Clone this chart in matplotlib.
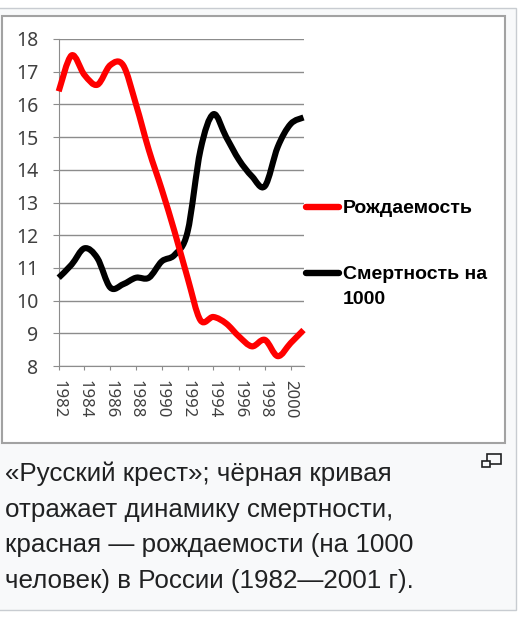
import matplotlib.pyplot as plt
import numpy as np
from matplotlib.path import Path
from matplotlib.patches import PathPatch, Rectangle
from matplotlib.lines import Line2D

plt.rcParams['font.family'] = ['Noto Sans', 'DejaVu Sans']

# data (per 1000 people, Russia)
years = [1982, 1983, 1984, 1985, 1986, 1987, 1988, 1989, 1990, 1991,
         1992, 1993, 1994, 1995, 1996, 1997, 1998, 1999, 2000, 2001]
birth = [16.4, 17.5, 16.9, 16.6, 17.2, 17.2, 16.0, 14.6, 13.4, 12.1,
         10.7, 9.4, 9.5, 9.3, 8.9, 8.6, 8.8, 8.3, 8.7, 9.1]
death = [10.7, 11.1, 11.6, 11.3, 10.4, 10.5, 10.7, 10.7, 11.2, 11.4,
         12.1, 14.6, 15.7, 15.0, 14.3, 13.8, 13.5, 14.7, 15.4, 15.6]
series_labels = ['Рождаемость', 'Смертность на\n1000']
series_colors = ['#ff0000', '#000000']
xtick_years = [1982, 1984, 1986, 1988, 1990, 1992, 1994, 1996, 1998, 2000]
caption = ('«Русский крест»; чёрная кривая\n'
           'отражает динамику смертности,\n'
           'красная — рождаемости (на 1000\n'
           'человек) в России (1982—2001 г).')

W, H = 524, 618


def fx(x):
    return x / W


def fy(y):
    return 1 - y / H


def smooth_path(x, y):
    # excel-like smoothed line: catmull-rom segments as cubic beziers
    x = np.asarray(x, float)
    y = np.asarray(y, float)
    n = len(x)
    verts = [(x[0], y[0])]
    codes = [Path.MOVETO]
    for i in range(n - 1):
        i0 = max(i - 1, 0)
        i3 = min(i + 2, n - 1)
        c1 = (x[i] + (x[i + 1] - x[i0]) / 6, y[i] + (y[i + 1] - y[i0]) / 6)
        c2 = (x[i + 1] - (x[i3] - x[i]) / 6, y[i + 1] - (y[i3] - y[i]) / 6)
        verts += [c1, c2, (x[i + 1], y[i + 1])]
        codes += [Path.CURVE4] * 3
    return Path(verts, codes)


fig = plt.figure(figsize=(W / 100, H / 100), dpi=100)
fig.patch.set_facecolor('white')

# wiki thumbnail frame (behind the axes)
fig.add_artist(Rectangle((fx(-2), fy(610)), fx(518), 602 / H, transform=fig.transFigure,
                         facecolor='#f8f9fa', edgecolor='#c8ccd1', lw=1, zorder=-10))
fig.add_artist(Rectangle((fx(2), fy(443)), fx(503), 427 / H, transform=fig.transFigure,
                         facecolor='white', edgecolor='#a2a2a2', lw=1.5, zorder=-9))

ax = fig.add_axes([fx(58.7), fy(366), fx(303.5 - 58.7), 327 / H])
ax.set_xlim(years[0], years[-1])
ax.set_ylim(8, 18)
ax.set_facecolor('none')

for vals, col in zip([death, birth], series_colors[::-1]):
    ax.add_patch(PathPatch(smooth_path(years, vals), facecolor='none', edgecolor=col,
                           lw=4.4, capstyle='butt', joinstyle='round', clip_on=False, zorder=3))

ax.set_yticks(range(8, 19))
ax.set_xticks(xtick_years)
ax.set_xticklabels([str(y) for y in xtick_years], rotation=-90)
ax.grid(axis='y', color='#8c8c8c', lw=1)
ax.set_axisbelow(True)
for s in ['top', 'right']:
    ax.spines[s].set_visible(False)
for s in ['left', 'bottom']:
    ax.spines[s].set_color('#8c8c8c')
ax.tick_params(axis='y', length=4.5, color='#8c8c8c', pad=10, labelsize=14, labelcolor='#404040')
ax.tick_params(axis='x', length=3, color='#8c8c8c', pad=7, labelsize=12, labelcolor='#404040')

# legend drawn to the right of the plot
leg_y = [207, 273]
for lab, col, yy in zip(series_labels, series_colors, leg_y):
    fig.add_artist(Line2D([fx(306), fx(339)], [fy(yy), fy(yy)], color=col, lw=4.6,
                          solid_capstyle='round', transform=fig.transFigure))
    fig.text(fx(343), fy(yy - 7), lab, fontsize=14, fontweight='bold', family='Liberation Sans',
             va='top', ha='left', linespacing=1.6, transform=fig.transFigure)

# caption
fig.text(fx(5), fy(462), caption, fontsize=18.7, family='Liberation Sans', color='#202122',
         va='top', ha='left', linespacing=1.6)
fig.add_artist(Rectangle((fx(486.7), fy(464)), fx(14.6), 10 / H, transform=fig.transFigure,
                         facecolor='none', edgecolor='#202122', lw=1.2))
fig.add_artist(Rectangle((fx(482), fy(467)), fx(8), 6.5 / H, transform=fig.transFigure,
                         facecolor='#f8f9fa', edgecolor='#202122', lw=1.2))

fig.savefig('out.png', dpi=100)
